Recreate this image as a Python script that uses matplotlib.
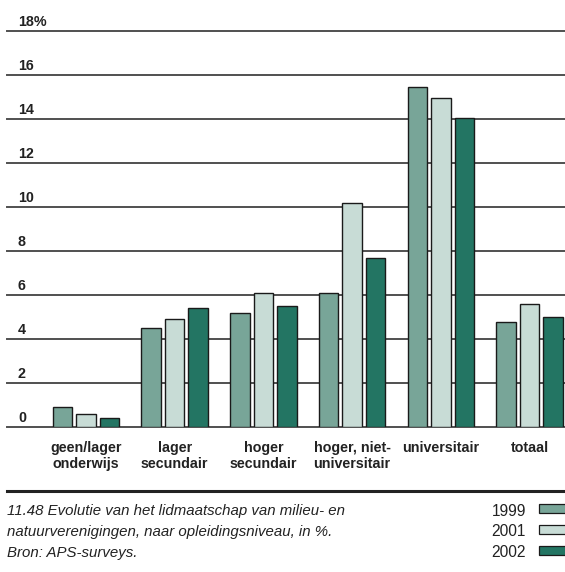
import numpy as np
import matplotlib.pyplot as plt
from matplotlib.patches import Rectangle

categories = ["geen/lager\nonderwijs", "lager\nsecundair", "hoger\nsecundair",
              "hoger, niet-\nuniversitair", "universitair", "totaal"]
years = ["1999", "2001", "2002"]
v1999 = [0.9, 4.5, 5.2, 6.1, 15.45, 4.8]
v2001 = [0.6, 4.9, 6.1, 10.2, 14.95, 5.6]
v2002 = [0.4, 5.4, 5.5, 7.7, 14.05, 5.0]
colors = ["#78a598", "#c8dcd6", "#237563"]
yticks = [0, 2, 4, 6, 8, 10, 12, 14, 16, 18]
ytick_labels = ["0", "2", "4", "6", "8", "10", "12", "14", "16", "18%"]

bold_font = ["Liberation Sans Narrow", "Liberation Sans", "DejaVu Sans"]
plain_font = ["Liberation Sans", "DejaVu Sans"]

W, H = 565, 572
fig = plt.figure(figsize=(W / 100, H / 100), dpi=100)

# axes: x data range chosen so group centres land at 86 + 88.7*i px
x_lo, x_hi = -0.89, 5.40
ax = fig.add_axes([7 / W, 1 - 427.3 / H, 558 / W, (427.3 - 30.7) / H])
ax.set_xlim(x_lo, x_hi)
ax.set_ylim(0, 18)
for s in ax.spines.values():
    s.set_visible(False)
ax.set_xticks([])
ax.set_yticks([])

for t, lab in zip(yticks, ytick_labels):
    ax.axhline(t, color="#505050", lw=1.4, zorder=1, clip_on=False)
    ax.text(11 / 558 * (x_hi - x_lo) + x_lo, t + 0.22, lab, fontsize=10.3,
            fontweight="bold", family=bold_font, color="#222222",
            ha="left", va="baseline")

x = np.arange(len(categories))
bw = 0.22
step = 0.265
for k, vals in enumerate([v1999, v2001, v2002]):
    ax.bar(x + (k - 1) * step, vals, width=bw, color=colors[k],
           edgecolor="#1a1a1a", linewidth=1.0, zorder=3)

for i, c in enumerate(categories):
    ax.text(i, -0.6, c, fontsize=10.3, fontweight="bold", family=bold_font,
            color="#222222", ha="center", va="top", linespacing=1.2)

# caption rule
fig.add_artist(plt.Line2D([7 / W, 1], [1 - 490.5 / H] * 2, color="#222222", lw=2.2))

caption = ["11.48 Evolutie van het lidmaatschap van milieu- en",
           "natuurverenigingen, naar opleidingsniveau, in %.",
           "Bron: APS-surveys."]
rows = [509.5, 530.5, 551.0]
for line, yc in zip(caption, rows):
    fig.text(7 / W, 1 - yc / H, line, fontsize=10.8,
             style="italic", family=plain_font, color="#222222",
             ha="left", va="center_baseline")

for j, yr in enumerate(years):
    yc = rows[j]
    fig.text(526 / W, 1 - yc / H, yr, fontsize=11.2, family=plain_font,
             color="#222222", ha="right", va="center_baseline")
    fig.add_artist(Rectangle((539 / W, 1 - (yc + 3.5) / H), 30 / W, 9 / H,
                             facecolor=colors[j], edgecolor="#1a1a1a", lw=0.9))

fig.savefig("out.png", dpi=100)
